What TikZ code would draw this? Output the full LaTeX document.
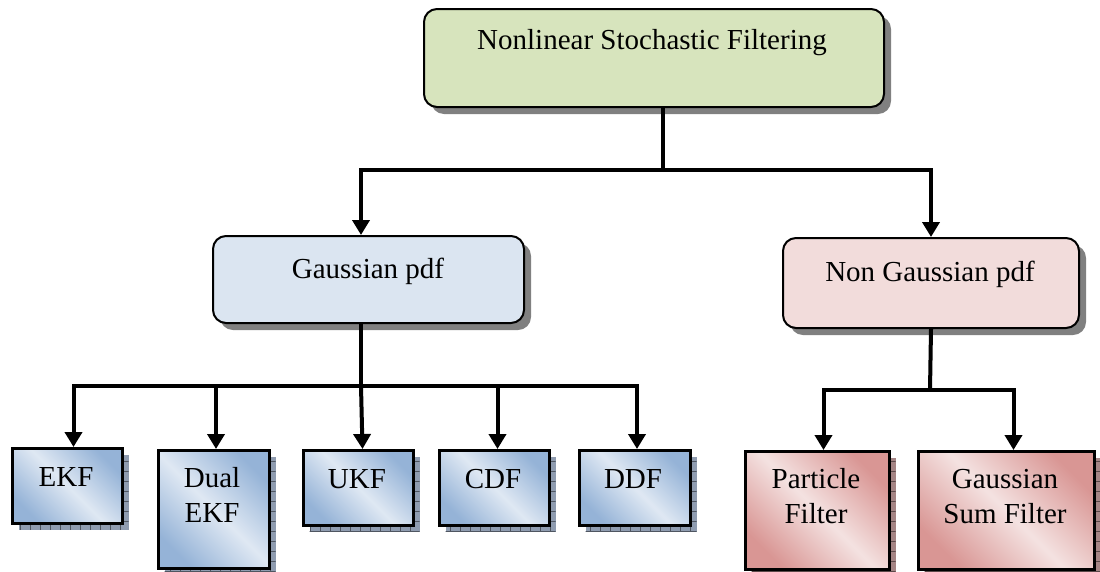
\documentclass[tikz,border=0pt]{standalone}
\usepackage{fontspec}
\setmainfont{Liberation Serif}
\usetikzlibrary{arrows.meta,shadows,calc,patterns.meta}

\definecolor{topfill}{HTML}{D7E4BD}
\definecolor{gfill}{HTML}{DBE5F1}
\definecolor{nfill}{HTML}{F2DCDB}
\definecolor{bdark}{HTML}{95B3D7}
\definecolor{blight}{HTML}{DFE8F3}
\definecolor{rdark}{HTML}{D99694}
\definecolor{rlight}{HTML}{F4E2E1}
\definecolor{bshadow}{HTML}{8F9CB0}
\definecolor{rshadow}{HTML}{A58585}

\begin{document}
\begin{tikzpicture}[x=1pt,y=-1pt,
  rbox/.style={draw=black, line width=2pt, rounded corners=13pt, inner sep=0pt,
    anchor=north west,
    general shadow={fill=black!50, shadow xshift=7pt, shadow yshift=-7pt}},
  leaf/.style={draw=black, line width=3pt, inner sep=0pt, anchor=north west},
  blueleaf/.style={leaf, top color=bdark, bottom color=bdark, middle color=blight,
    shading angle=-45,
    general shadow={fill=bshadow, shadow xshift=6pt, shadow yshift=-6pt,
      postaction={pattern={Lines[angle=90,distance=10pt,line width=0.7pt]},
        pattern color=bshadow!55!black},
      postaction={pattern={Lines[angle=0,distance=10pt,line width=0.7pt]},
        pattern color=bshadow!55!black}}},
  redleaf/.style={leaf, top color=rdark, bottom color=rdark, middle color=rlight,
    shading angle=-45,
    general shadow={fill=rshadow, shadow xshift=6pt, shadow yshift=-6pt,
      postaction={pattern={Lines[angle=90,distance=10pt,line width=0.7pt]},
        pattern color=rshadow!55!black},
      postaction={pattern={Lines[angle=0,distance=10pt,line width=0.7pt]},
        pattern color=rshadow!55!black}}},
  lbl/.style={font=\fontsize{29}{35}\selectfont, align=center, inner sep=0pt, anchor=base},
  conn/.style={line width=4pt, draw=black},
  arr/.style={conn, -{Triangle[length=15pt,width=17pt]}}
]
\useasboundingbox (0,0) rectangle (1100,571);

% top level
\node[rbox, fill=topfill, minimum width=460pt, minimum height=98pt] (top) at (423,8) {};
\node[lbl] (top-t) at (652,49) {Nonlinear Stochastic Filtering};

% second level
\node[rbox, fill=gfill, minimum width=311pt, minimum height=87pt] (gauss) at (212,235) {};
\node[lbl] (gauss-t) at (368,278) {Gaussian pdf};
\node[rbox, fill=nfill, minimum width=296pt, minimum height=90pt] (nong) at (782,237) {};
\node[lbl] (nong-t) at (930,281) {Non Gaussian pdf};

% Gaussian family (two-line labels are placed by their last baseline)
\node[blueleaf, minimum width=110pt, minimum height=75pt] (ekf) at (11,447) {};
\node[lbl] (ekf-t) at (66,486) {EKF};
\node[blueleaf, minimum width=111pt, minimum height=118pt] (dekf) at (157,449) {};
\node[lbl] (dekf-t) at (212,522) {Dual\\EKF};
\node[blueleaf, minimum width=110pt, minimum height=75pt] (ukf) at (302,449) {};
\node[lbl] (ukf-t) at (357,488) {UKF};
\node[blueleaf, minimum width=110pt, minimum height=75pt] (cdf) at (438,449) {};
\node[lbl] (cdf-t) at (493,488) {CDF};
\node[blueleaf, minimum width=111pt, minimum height=75pt] (ddf) at (578,449) {};
\node[lbl] (ddf-t) at (633,488) {DDF};

% non-Gaussian family
\node[redleaf, minimum width=144pt, minimum height=118pt] (pf) at (744,450) {};
\node[lbl] (pf-t) at (816,523) {Particle\\Filter};
\node[redleaf, minimum width=176pt, minimum height=118pt] (gsf) at (917,450) {};
\node[lbl] (gsf-t) at (1005,523) {Gaussian\\Sum Filter};

% connectors
\coordinate (j1) at (663,170);
\draw[conn] ($(top.south west)+(240,0)$) -- (j1);
\draw[arr] (j1) -| ($(gauss.north west)+(149,0)$);
\draw[arr] (j1) -| (nong.north);

\coordinate (j2) at (361,386);
\draw[conn] ($(gauss.south west)+(149,0)$) -- (j2);
\draw[arr] (j2) -| ($(ekf.north)+(6,0)$);
\draw[arr] (j2) -| ($(dekf.north)+(2,0)$);
\draw[arr] (j2) -- ($(ukf.north)+(4,0)$);
\draw[arr] (j2) -| ($(cdf.north)+(3,0)$);
\draw[arr] (j2) -| ($(ddf.north)+(2,0)$);

\coordinate (j3) at (930,390);
\draw[conn] (nong.south) -- (j3);
\draw[arr] (j3) -| ($(pf.north)+(6,0)$);
\draw[arr] (j3) -| ($(gsf.north)+(7,0)$);
\end{tikzpicture}
\end{document}
